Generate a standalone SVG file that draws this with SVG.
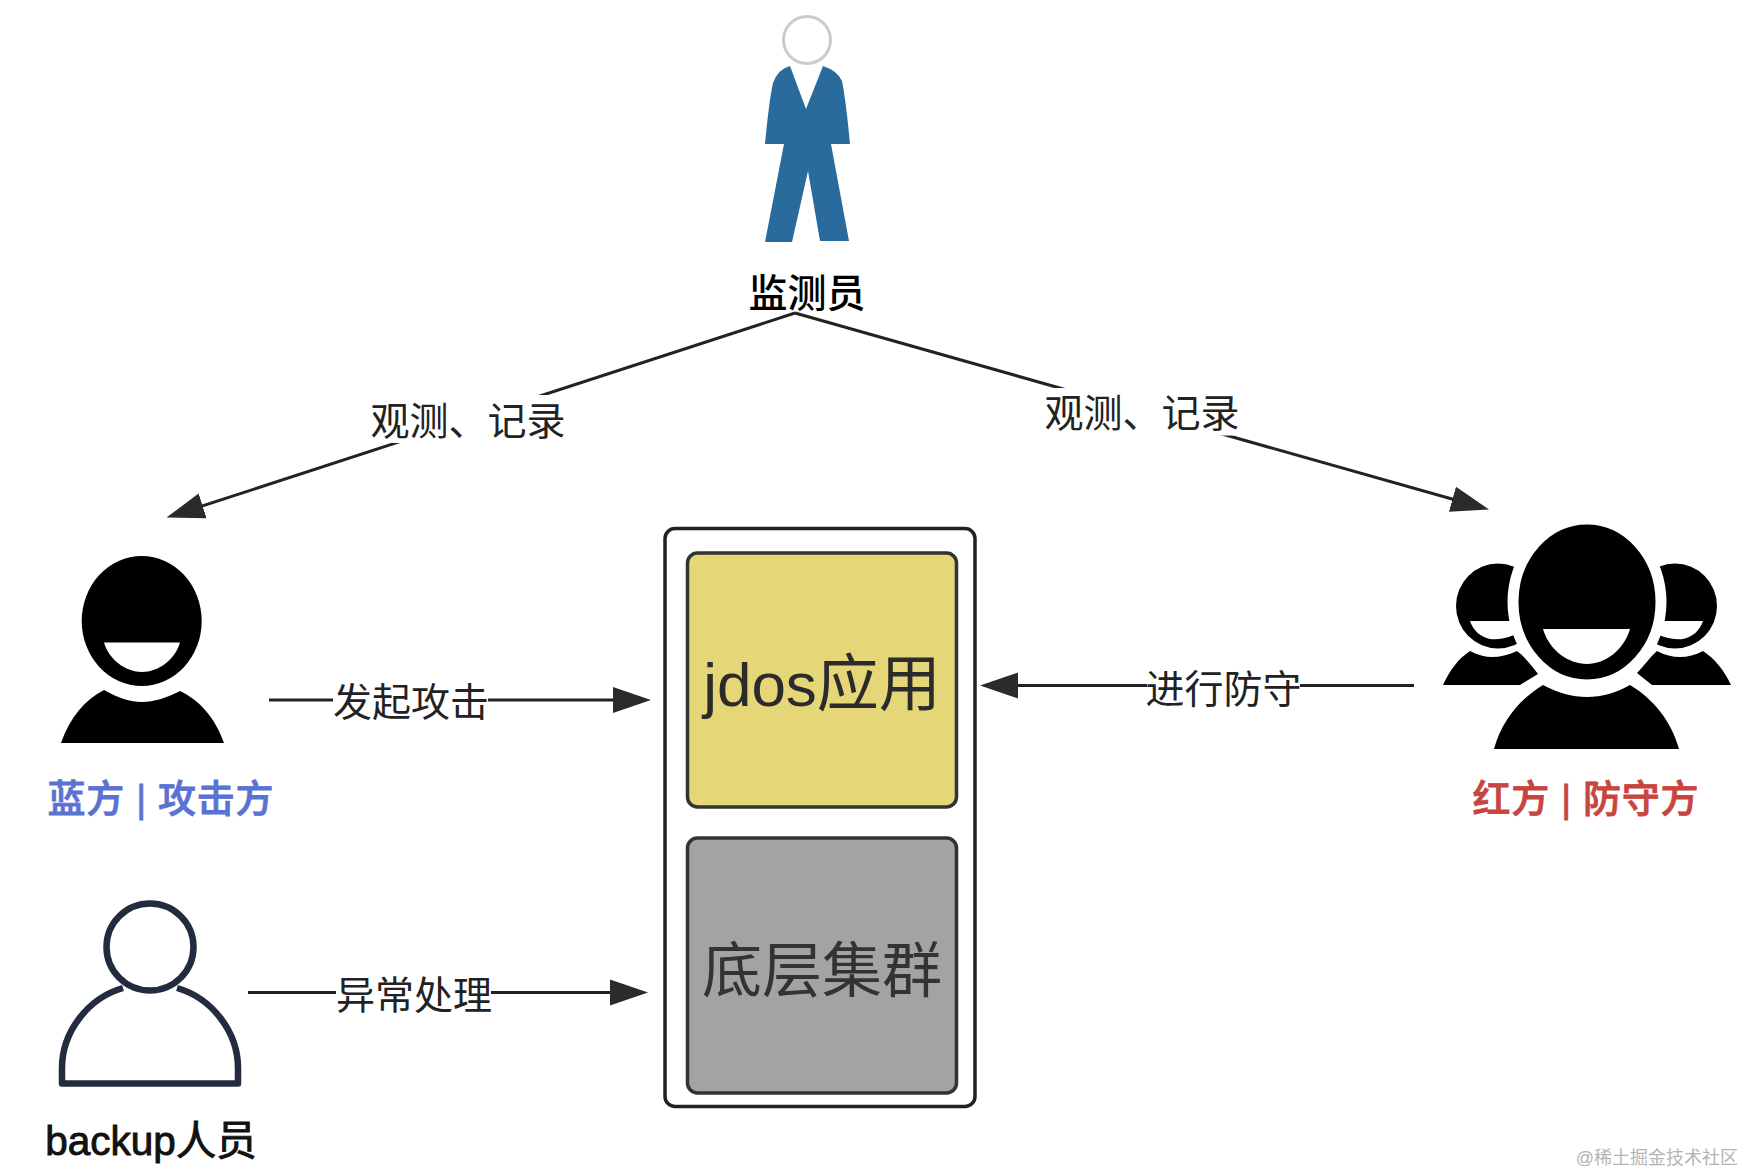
<svg xmlns="http://www.w3.org/2000/svg" width="1744" height="1174" viewBox="0 0 1744 1174">
<style>
text{font-family:"Liberation Sans","Noto Sans CJK SC",sans-serif;text-anchor:middle}
.lbl{font-size:39px;fill:#222}
.who{font-size:38px;font-weight:500;stroke-width:.8}
.big{font-size:61px;fill:#2b2b2b}
.conn{fill:none;stroke:#222;stroke-width:3}
.box{stroke:#333;stroke-width:3.5}
.k{fill:#000}
.w{fill:#fff}
.halo{fill:#000;stroke:#fff;stroke-width:11}
</style>
<defs>
<marker id="arrow" markerUnits="userSpaceOnUse" markerWidth="40" markerHeight="28" viewBox="0 0 40 28" refX="28" refY="14" orient="auto">
<path d="M0,1 L38,14 L0,27 Z" fill="#2b2b2b"/>
</marker>
</defs>
<rect width="1744" height="1174" fill="#fff"/>

<g id="connectors">
<line class="conn" x1="795" y1="313" x2="176" y2="514.5" marker-end="url(#arrow)"/>
<line class="conn" x1="795" y1="313" x2="1479.4" y2="506.8" marker-end="url(#arrow)"/>
<line class="conn" x1="269" y1="700" x2="641" y2="700" marker-end="url(#arrow)"/>
<line class="conn" x1="248" y1="992.5" x2="638" y2="992.5" marker-end="url(#arrow)"/>
<line class="conn" x1="1414" y1="685.5" x2="990" y2="685.5" marker-end="url(#arrow)"/>
<rect class="w" x="370" y="395" width="196" height="48"/>
<rect class="w" x="1045" y="388" width="195" height="47.5"/>
<rect class="w" x="333" y="680" width="155" height="40"/>
<rect class="w" x="336" y="972" width="155" height="40"/>
<rect class="w" x="1147" y="665" width="153" height="40"/>
<text class="lbl" x="468" y="435">观测、记录</text>
<text class="lbl" x="1142" y="427">观测、记录</text>
<text class="lbl" x="411" y="716">发起攻击</text>
<text class="lbl" x="414" y="1009">异常处理</text>
<text class="lbl" x="1223.5" y="703">进行防守</text>
</g>

<g id="monitor">
<circle cx="807" cy="40" r="23.5" fill="#fff" stroke="#c9cdd1" stroke-width="3"/>
<path d="M790,66 Q778,69 773,83 Q769,101 765,144 L784,144 L765,242 L792,242 L808,171 L820,241 L849,241 L831,144 L850,144 Q846,101 842,81 Q838,71 823,66 L806,109 Z" fill="#2a6b9d"/>
<text class="who" x="807" y="307" style="font-size:39px">监测员</text>
</g>

<g id="blue">
<g transform="translate(0,2)">
<ellipse class="k" cx="141.7" cy="619" rx="60" ry="65"/>
<path class="w" d="M104,640.5 L180,640.5 C175,658 158,670 142,670 C126,670 109,658 104,640.5 Z"/>
<path class="k" d="M61,741 C70,715 85,698 104,688 C118,696 130,700 142,700 C154,700 166,696 180,689 C199,698 215,715 224,741 Z"/>
</g>
<text class="who" x="160.5" y="812" fill="#5a72d2" stroke="#5a72d2" textLength="226">蓝方 | 攻击方</text>
</g>

<g id="red">
<g transform="translate(0,2)">
<ellipse class="k" cx="1498" cy="604" rx="42" ry="42.5"/>
<path class="w" d="M1470,619 L1514,619 L1514,633 C1505,637 1495,638 1490,637 C1480,635 1473,628 1470,619 Z"/>
<ellipse class="k" cx="1675" cy="604" rx="42" ry="42.5"/>
<path class="w" d="M1703,619 L1659,619 L1659,633 C1668,637 1678,638 1683,637 C1693,635 1700,628 1703,619 Z"/>
<path class="k" d="M1443,683 C1450,668 1458,657 1470,649 C1478,653 1485,655 1492,655 C1500,655 1508,653 1517,649 C1525,655 1532,664 1538,672 L1520,683 Z"/>
<path class="k" d="M1731,683 C1724,668 1715,657 1703,649 C1695,653 1688,655 1680,655 C1672,655 1665,653 1657,649 C1650,655 1644,664 1637,671 L1652,683 Z"/>
<ellipse class="halo" cx="1587" cy="600" rx="74" ry="83"/>
<path class="w" d="M1543,627 L1630,627 C1624,648 1605,662 1587,662 C1568,662 1549,648 1543,627 Z"/>
<path class="k" d="M1494,747 C1502,718 1520,697 1543,683 C1558,691 1572,695 1587,695 C1602,695 1616,691 1630,683 C1653,697 1671,718 1679,747 Z"/>
</g>
<text class="who" x="1585.5" y="812" fill="#c8453f" stroke="#c8453f" textLength="226">红方 | 防守方</text>
</g>

<g id="backup">
<circle cx="150" cy="947" r="43.5" fill="#fff" stroke="#232b3e" stroke-width="6.5"/>
<path d="M123,988 C88,998 62,1032 62,1068 L62,1083.5 L238,1083.5 L238,1068 C238,1032 212,998 177,988" fill="none" stroke="#232b3e" stroke-width="6.5" stroke-linejoin="round"/>
<text x="151" y="1155" font-size="40.5" fill="#111" stroke="#111" stroke-width=".9">backup人员</text>
</g>

<g id="container">
<rect x="665" y="528.5" width="310" height="578" rx="10" fill="#fff" stroke="#222" stroke-width="3.5"/>
</g>
<g id="jdos">
<rect class="box" x="687.5" y="553" width="269" height="254" rx="10" fill="#e5d678"/>
<text class="big" x="822" y="706" style="font-size:62px">jdos应用</text>
</g>
<g id="cluster">
<rect class="box" x="687.5" y="838" width="269" height="255" rx="10" fill="#a3a3a3"/>
<text class="big" x="822" y="992" style="font-size:60px;fill:#333">底层集群</text>
</g>
<text id="watermark" x="1738" y="1164" font-size="18" fill="#b4b4b4" style="text-anchor:end">@稀土掘金技术社区</text>
</svg>
